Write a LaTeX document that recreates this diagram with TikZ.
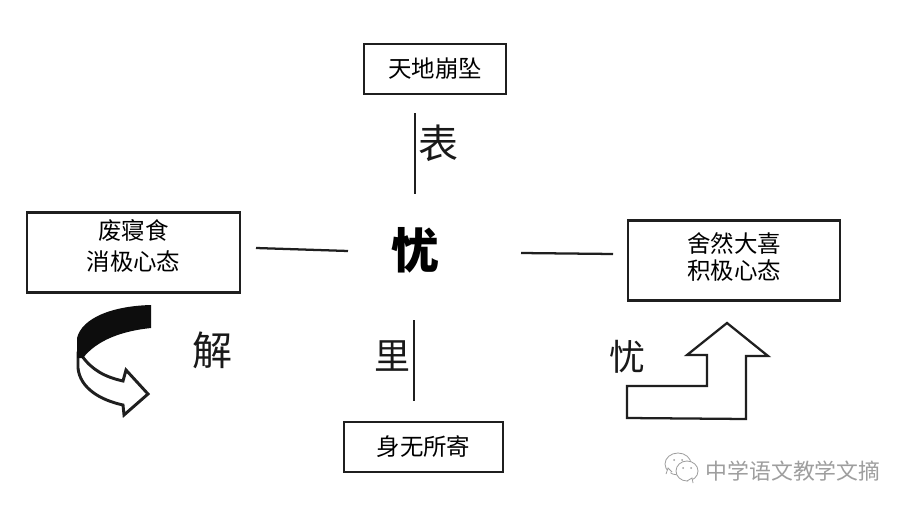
\documentclass[tikz,border=0pt]{standalone}
\usepackage{fontspec}
\setmainfont{Noto Sans CJK SC}
\definecolor{wm}{gray}{0.62}
\tikzset{
  x=0.75pt,y=-0.75pt,
  ink/.style={draw=black!88,line width=1.7pt,line join=miter},
  boxed/.style={ink,fill=white,inner sep=0pt,align=center,font=\fontsize{17.6pt}{23pt}\selectfont},
  big/.style={inner sep=0pt,text=black!90,font=\fontsize{30pt}{31pt}\selectfont},
  bubble/.style={draw=wm,line width=0.6pt,fill=white},
}
\begin{document}
\begin{tikzpicture}
\useasboundingbox (0,0) rectangle (910,510);
\fill[white] (0,0) rectangle (910,510);
% boxes
\node[boxed,minimum width=106.5pt,minimum height=37.5pt] (top) at (435,69) {天地崩坠};
\node[boxed,minimum width=119pt,minimum height=37.5pt] (bottom) at (423.5,447) {身无所寄};
\node[boxed,minimum width=160pt,minimum height=60pt] (left) at (133.5,252.5) {\begin{tabular}{@{}c@{}}废寝食\\[0pt]消极心态\\[5pt]\end{tabular}};
\node[boxed,minimum width=159pt,minimum height=60pt] (right) at (734,260.5) {\begin{tabular}{@{}c@{}}舍然大喜\\[-2.5pt]积极心态\\[1pt]\end{tabular}};
% centre and labels
\node[inner sep=0pt,font=\fontsize{36pt}{36pt}\selectfont\bfseries] (c) at (415,250) {忧};
\node[big] (lbiao) at (438,143) {表};
\node[big,font=\fontsize{27pt}{28pt}\selectfont] (lli) at (392,356) {里};
\node[big] (ljie) at (212,350) {解};
\node[big,font=\fontsize{27pt}{28pt}\selectfont] (lyou) at (627,357) {忧};
% connector ends
\coordinate (ta) at (415,113); \coordinate (tb) at (415,194);
\coordinate (ba) at (414,320); \coordinate (bb) at (414,401);
\coordinate (la) at (256,248); \coordinate (lb) at (348,251);
\coordinate (ra) at (521,253); \coordinate (rb) at (613,254);
\draw[ink] (ta) -- (tb);
\draw[ink] (ba) -- (bb);
\draw[ink] (la) -- (lb);
\draw[ink] (ra) -- (rb);
% curved arrow, white part
\draw[ink,line width=2.2pt,fill=white] (78,354) -- (78,368)
  .. controls (80,388) and (100,400) .. (123,405)
  -- (124,415) -- (148,394) -- (126,370) -- (123,381)
  .. controls (105,377) and (92,370) .. (82,356) -- cycle;
% curved arrow, black part
\fill[black!95] (151,305) -- (151,328)
  .. controls (122,331) and (97,340) .. (83,358)
  -- (77,358) -- (77,338)
  .. controls (82,318) and (112,306) .. (151,305) -- cycle;
% up arrow
\draw[ink,fill=white] (627,386) -- (707,386) -- (707,355) -- (687,355) -- (727,323)
  -- (768,356) -- (746,356) -- (746,419) -- (627,418) -- cycle;
% watermark
\draw[bubble] (678,464) ellipse (13 and 11);
\draw[bubble] (666,474) -- (668,468) -- (672,472);
\draw[bubble] (687,471) ellipse (11 and 10);
\draw[bubble] (693,483) -- (692,478) -- (687,481);
\fill[wm] (674,460) circle (1) (682,460) circle (1) (683,468) circle (1) (691,468) circle (1);
\node[inner sep=0pt,text=wm,font=\fontsize{16.4pt}{18pt}\selectfont] (wmark) at (793,471) {中学语文教学文摘};
\end{tikzpicture}
\end{document}
